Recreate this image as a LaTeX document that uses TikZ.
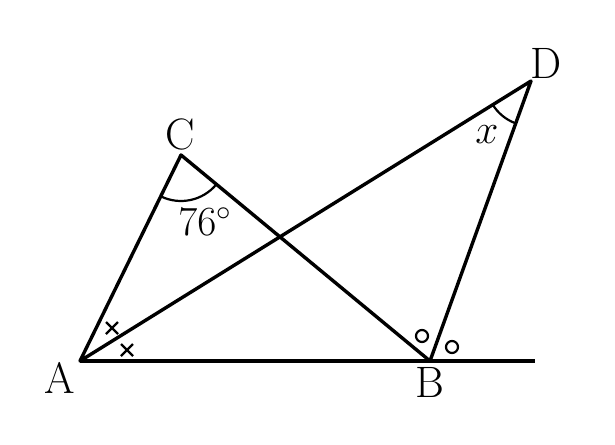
\documentclass[tikz,border=0pt]{standalone}
\usetikzlibrary{calc}
\begin{document}
\begin{tikzpicture}[x=0.5pt,y=-0.5pt,
  seg/.style={line width=1.7pt, line join=round},
  tickmark/.style={line width=1.1pt},
  lbl/.style={font=\fontsize{22}{24}\selectfont, inner sep=0pt}]
\useasboundingbox (0,0) rectangle (615,444);
\coordinate (A) at (80,361);
\coordinate (B) at (430,361);
\coordinate (C) at (181,155);
\coordinate (D) at (531,81);
\coordinate (E) at (535,361);
% lines
\draw[seg] (A) -- (E);
\draw[seg] (A) -- (C) -- (B) -- (D) -- cycle;
% angle arcs
\draw[tickmark] ($(C)!23pt!(A)$) arc[start angle={180+63.9}, end angle={360-39.6}, radius=23pt];
\draw[tickmark] ($(D)!22.5pt!(A)$) arc[start angle={180+31.8}, end angle={180+70.2}, radius=22.5pt];
% crosses
\foreach \p in {(112,328),(127,350)} {
  \draw[tickmark] \p ++(-6,-6) -- ++(12,12);
  \draw[tickmark] \p ++(-6,6) -- ++(12,-12);
}
% circles
\draw[tickmark] (422,336) circle[radius=3pt];
\draw[tickmark] (452,347) circle[radius=3pt];
% labels
\node[lbl] (la) at (60,378) {A};
\node[lbl] (lb) at (430,382) {B};
\node[lbl] (lc) at (180,134) {C};
\node[lbl] (ld) at (546,63) {D};
\node[lbl] (l76) at (205,222) {$76^\circ$};
\node[lbl] (lx) at (487,135) {$x$};
\end{tikzpicture}
\end{document}
